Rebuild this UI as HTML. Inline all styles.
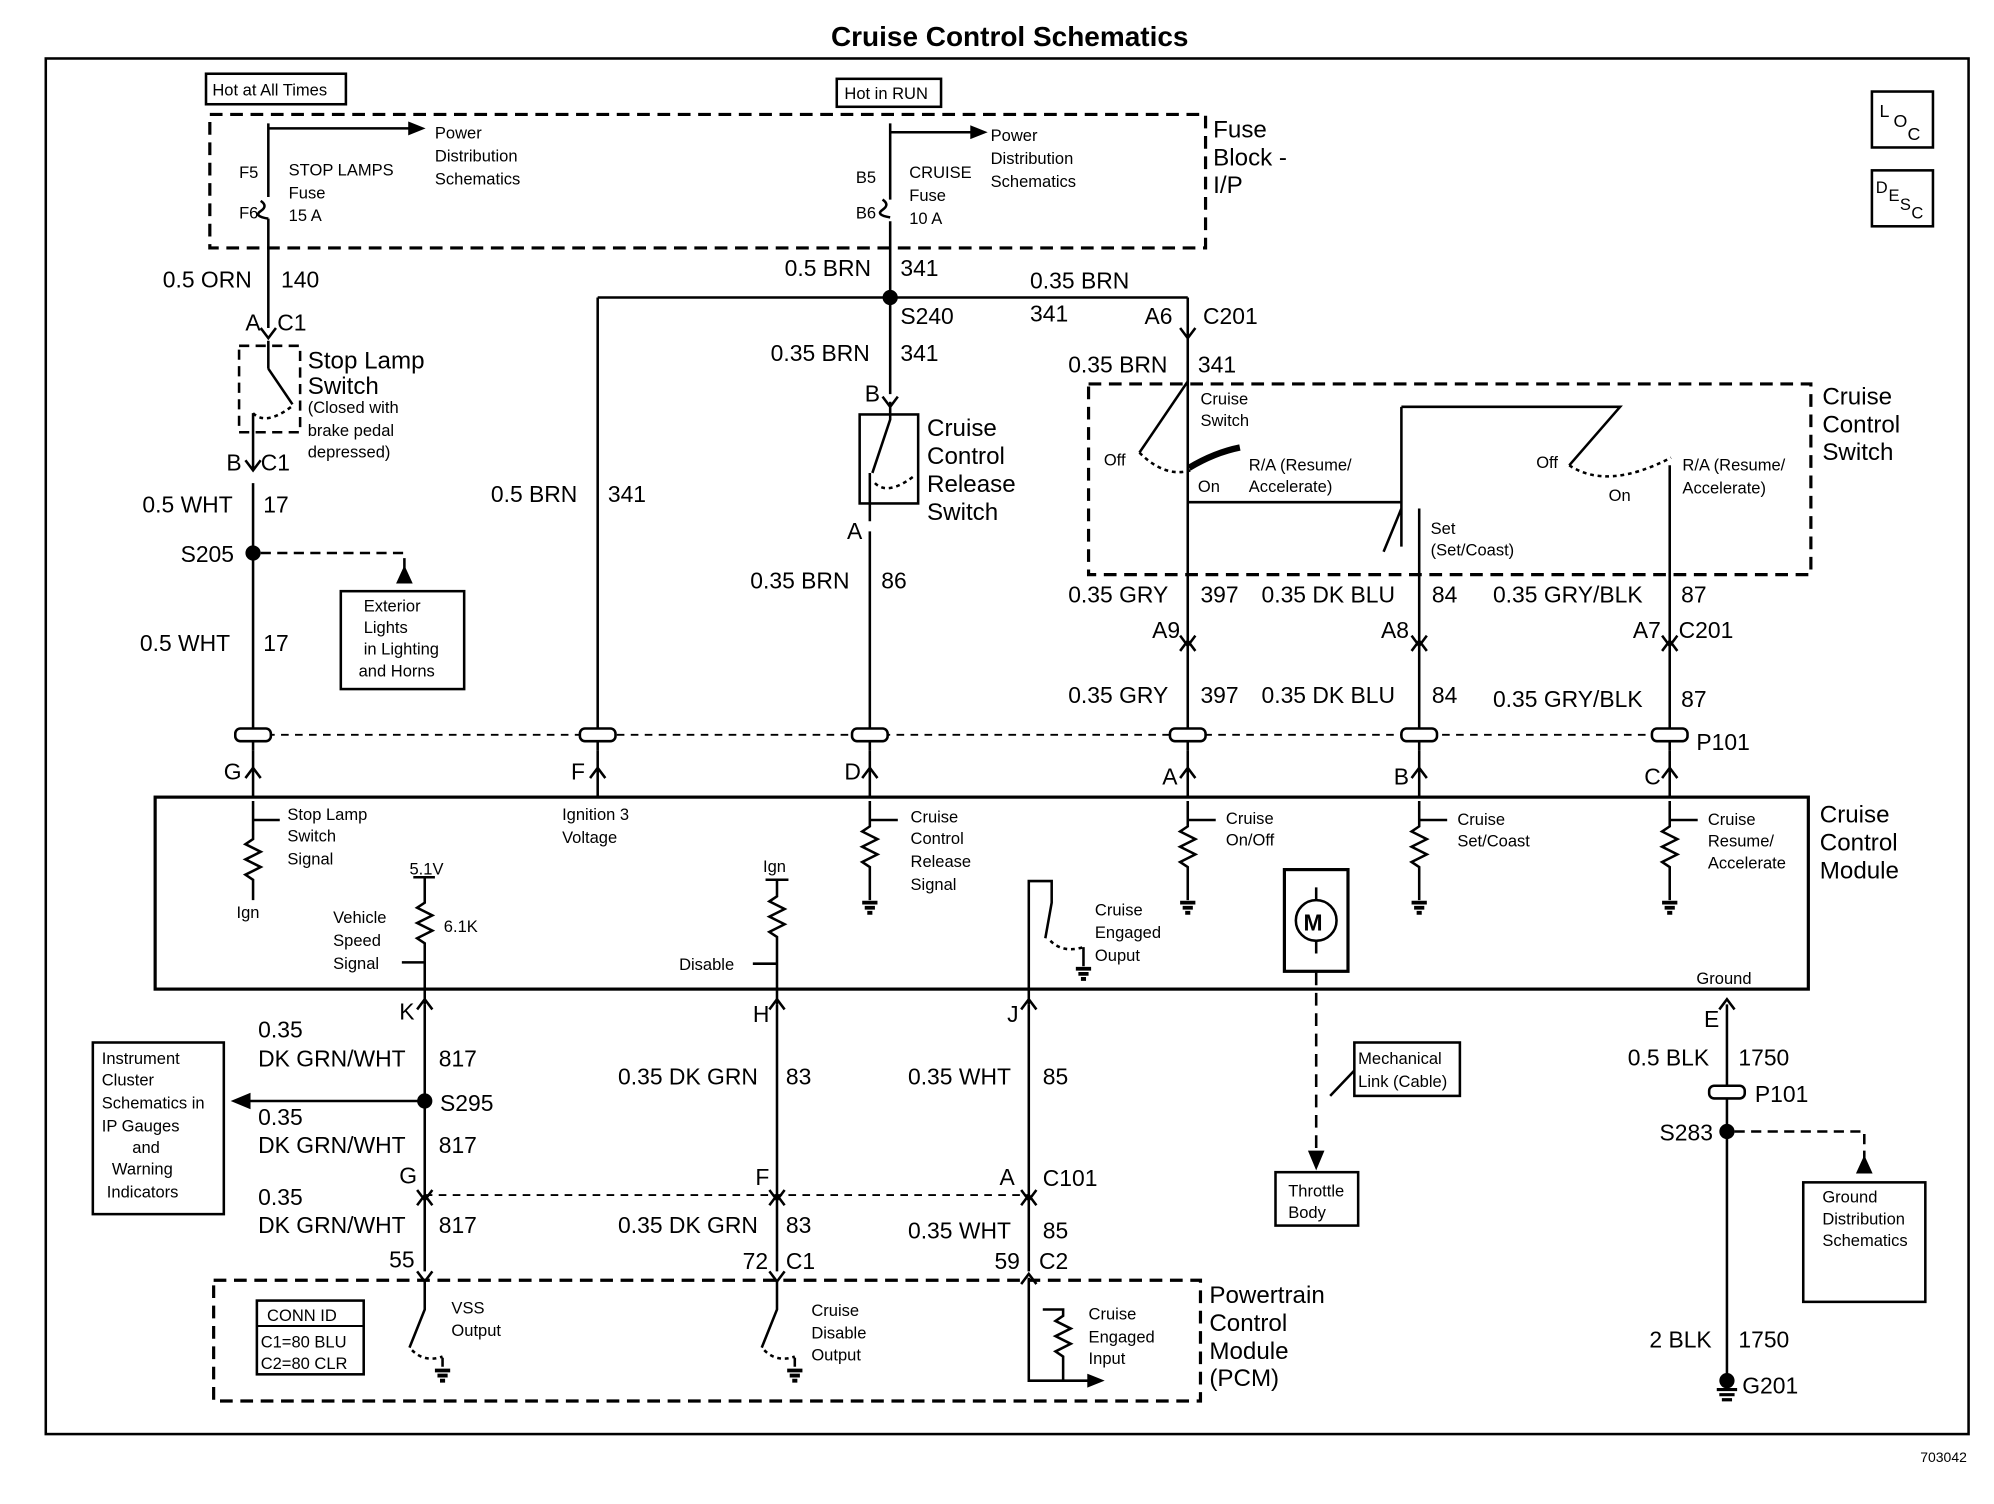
<!DOCTYPE html>
<html><head><meta charset="utf-8"><style>
html,body{margin:0;padding:0;background:#fff;}
svg{display:block}
text{font-family:"Liberation Sans",Arial,sans-serif;fill:#000}
.b{font-size:18px}
.s{font-size:13px}
.m{font-size:19px}
</style></head><body>
<svg width="1994" height="1504" viewBox="0 0 1568 1183" preserveAspectRatio="none" xmlns="http://www.w3.org/2000/svg">
<g stroke="#000" fill="none" stroke-width="2">
<rect x="36" y="46" width="1512" height="1082"/>
<rect x="162" y="58" width="110" height="24"/>
<rect x="658" y="62" width="82" height="22"/>
<rect x="165" y="90" width="783" height="105" stroke-dasharray="10,6" stroke-width="2.5"/>
<rect x="1472" y="72" width="48" height="44"/>
<rect x="1472" y="134" width="48" height="44"/>
<!-- left wire -->
<path d="M211 97 V155 M211 172 V258"/>
<path d="M205 158 q6 4 0 8 q-6 4 6 6" />
<path d="M211 101 H330"/><path d="M322 97 L332 101 L322 105 Z" fill="#000"/>
<rect x="188" y="272" width="48" height="68" stroke-dasharray="8,5"/>
<path d="M211 268 V290 M211 290 L230 318 M199 325 V370 M199 380 V590 M205 258 l6 8 l6-8 M193 362 l6 8 l6-8"/>
<path d="M199 325 q10 10 30 -5" stroke-dasharray="3,3"/>
<circle cx="199" cy="435" r="5" fill="#000"/>
<path d="M205 435 H318 V450" stroke-dasharray="8,5"/>
<path d="M313 458 L318 447 L323 458 Z" fill="#000"/>
<rect x="268" y="465" width="97" height="77"/>
<!-- middle fuse -->
<path d="M700 97 V157 M700 174 V310 M694 157 q6 4 0 8 q-6 4 6 6"/>
<path d="M700 104 H772"/><path d="M764 100 L774 104 L764 108 Z" fill="#000"/>
<circle cx="700" cy="234" r="5" fill="#000"/>
<path d="M470 234 H934 M470 234 V590 M934 234 V590"/>
<path d="M928 258 l6 8 l6-8"/>
<rect x="676" y="326" width="46" height="70"/>
<path d="M700 316 V330 L686 372 M684 372 V410 M684 418 V590 M694 312 l6 8 l6-8"/>
<path d="M688 380 q10 10 30 -5" stroke-dasharray="3,3"/>
<!-- cruise control switch -->
<rect x="856" y="302" width="568" height="150" stroke-dasharray="10,6" stroke-width="2.5"/>
<path d="M934 300 L896 356"/>
<path d="M896 356 q20 20 40 14" stroke-dasharray="3,3"/>
<path d="M935 368 q20-12 40-16" stroke-width="5"/>
<path d="M934 395 H1102 M1102 320 V395 V430 M1102 320 H1274 L1234 366 M1102 400 L1088 434"/>
<path d="M1234 366 q30 20 80-6" stroke-dasharray="3,3"/>
<path d="M1116 400 V590 M1313 366 V590"/>
<path d="M928 500 l6 8 l6-8 M928 512 l6 -8 l6 8 M1110 500 l6 8 l6-8 M1110 512 l6 -8 l6 8 M1307 500 l6 8 l6-8 M1307 512 l6 -8 l6 8"/>
<!-- P101 row -->
<path d="M199 578 H1313" stroke-dasharray="6,5" stroke-width="1.5"/>
<g stroke-width="2">
<rect x="185" y="573" width="28" height="10" rx="4" fill="#fff"/>
<rect x="456" y="573" width="28" height="10" rx="4" fill="#fff"/>
<rect x="670" y="573" width="28" height="10" rx="4" fill="#fff"/>
<rect x="920" y="573" width="28" height="10" rx="4" fill="#fff"/>
<rect x="1102" y="573" width="28" height="10" rx="4" fill="#fff"/>
<rect x="1299" y="573" width="28" height="10" rx="4" fill="#fff"/>
</g>
<path d="M193 612 l6-8 l6 8 M464 612 l6-8 l6 8 M678 612 l6-8 l6 8 M928 612 l6-8 l6 8 M1110 612 l6-8 l6 8 M1307 612 l6-8 l6 8"/>
<path d="M199 590 V627 M470 590 V627 M684 590 V627 M934 590 V627 M1116 590 V627 M1313 590 V627"/>
<!-- module -->
<rect x="122" y="627" width="1300" height="151" stroke-width="2.5"/>
<path d="M199 630 V660 l-6 4 l12 6 l-12 6 l12 6 l-12 6 l6 4 V708 M199 645 H220"/>
<path d="M684 630 V650 l-6 4 l12 6 l-12 6 l12 6 l-12 6 l6 4 V708 M684 645 H706 M934 630 V650 l-6 4 l12 6 l-12 6 l12 6 l-12 6 l6 4 V708 M934 645 H956 M1116 630 V650 l-6 4 l12 6 l-12 6 l12 6 l-12 6 l6 4 V708 M1116 645 H1138 M1313 630 V650 l-6 4 l12 6 l-12 6 l12 6 l-12 6 l6 4 V708 M1313 645 H1335"/>
<path d="M678 710 h12 M680 714 h8 M682 718 h4 M928 710 h12 M930 714 h8 M932 718 h4 M1110 710 h12 M1112 714 h8 M1114 718 h4 M1307 710 h12 M1309 714 h8 M1311 718 h4 M846 762 h12 M848 766 h8 M850 770 h4" stroke-width="3"/>
<path d="M325 690 H342 M334 690 V710 l-6 4 l12 6 l-12 6 l12 6 l-12 6 l6 4 V790 M334 757 H316"/>
<path d="M602 692 H620 M611 692 V705 l-6 4 l12 6 l-12 6 l12 6 l-12 6 l6 4 V790 M611 758 H592"/>
<path d="M809 790 V693 H827 V710 L822 738 M852 745 V760"/>
<path d="M826 740 q10 10 26 5" stroke-dasharray="3,3"/>
<rect x="1010" y="684" width="50" height="80" stroke-width="2.5"/>
<circle cx="1035" cy="724" r="16"/>
<path d="M1035 698 V708 M1035 740 V750"/>
<path d="M1035 765 V915" stroke-dasharray="10,6"/>
<path d="M1030 906 L1035 918 L1040 906 Z" fill="#000"/>
<rect x="1003" y="922" width="65" height="42"/>
<rect x="1065" y="820" width="83" height="42"/>
<path d="M1065 842 L1046 862"/>
<!-- lower wires -->
<path d="M328 794 l6-8 l6 8 M605 794 l6-8 l6 8 M803 794 l6-8 l6 8 M1352 794 l6-8 l6 8"/>
<path d="M334 790 V1000 M611 790 V1000 M809 790 V1000 M1358 790 V1085"/>
<circle cx="334" cy="866" r="5" fill="#000"/>
<path d="M334 866 H194"/><path d="M196 861 L184 866 L196 871 Z" fill="#000"/>
<rect x="73" y="820" width="103" height="135"/>
<path d="M334 940 H809" stroke-dasharray="6,5" stroke-width="1.5"/>
<path d="M328 936 l6 8 l6-8 M328 948 l6-8 l6 8 M605 936 l6 8 l6-8 M605 948 l6-8 l6 8 M803 936 l6 8 l6-8 M803 948 l6-8 l6 8"/>
<path d="M328 1000 l6 8 l6-8 M605 1000 l6 8 l6-8 M803 1010 l6-8 l6 8"/>
<rect x="168" y="1007" width="776" height="95" stroke-dasharray="10,6" stroke-width="2.5"/>
<rect x="202" y="1023" width="84" height="58"/>
<path d="M334 1008 V1030 L322 1060 M348 1068 V1075"/>
<path d="M324 1062 q10 10 24 5" stroke-dasharray="3,3"/>
<path d="M611 1008 V1030 L599 1060 M625 1068 V1075"/>
<path d="M601 1062 q10 10 24 5" stroke-dasharray="3,3"/>
<path d="M809 1005 V1086 H860 M820 1030 H836 V1035 l-6 4 l12 6 l-12 6 l12 6 l-12 6 l6 4 V1086"/>
<path d="M856 1082 L866 1086 L856 1090 Z" fill="#000"/>
<path d="M342 1078 h12 M344 1082 h8 M346 1086 h4 M619 1078 h12 M621 1082 h8 M623 1086 h4" stroke-width="3"/>
<rect x="1344" y="854" width="28" height="10" rx="4" fill="#fff"/>
<circle cx="1358" cy="890" r="5" fill="#000"/>
<path d="M1364 890 H1466 V912" stroke-dasharray="8,5"/>
<path d="M1461 922 L1466 911 L1471 922 Z" fill="#000"/>
<rect x="1418" y="930" width="96" height="94"/>
<circle cx="1358" cy="1086" r="5" fill="#000"/>
<path d="M1350 1093 h16 M1352 1097 h12 M1354 1101 h8" stroke-width="2.5"/>
</g>
<text x="794" y="36" text-anchor="middle" style="font-size:22px;font-weight:bold">Cruise Control Schematics</text>
<text x="1510" y="1150" class="s" style="font-size:11px">703042</text>
<text x="167" y="75" class="s">Hot at All Times</text>
<text x="664" y="78" class="s">Hot in RUN</text>
<text x="954" y="108" class="m">Fuse</text><text x="954" y="130" class="m">Block -</text><text x="954" y="152" class="m">I/P</text>
<text x="1478" y="92" style="font-size:14px">L</text><text x="1489" y="100" style="font-size:14px">O</text><text x="1500" y="110" style="font-size:14px">C</text>
<text x="1475" y="152" style="font-size:13px">D</text><text x="1485" y="158" style="font-size:13px">E</text><text x="1494" y="165" style="font-size:13px">S</text><text x="1503" y="172" style="font-size:13px">C</text>
<text x="342" y="109" class="s">Power</text><text x="342" y="127" class="s">Distribution</text><text x="342" y="145" class="s">Schematics</text>
<text x="188" y="140" class="s">F5</text><text x="188" y="172" class="s">F6</text>
<text x="227" y="138" class="s">STOP LAMPS</text><text x="227" y="156" class="s">Fuse</text><text x="227" y="174" class="s">15 A</text>
<text x="779" y="111" class="s">Power</text><text x="779" y="129" class="s">Distribution</text><text x="779" y="147" class="s">Schematics</text>
<text x="673" y="144" class="s">B5</text><text x="673" y="172" class="s">B6</text>
<text x="715" y="140" class="s">CRUISE</text><text x="715" y="158" class="s">Fuse</text><text x="715" y="176" class="s">10 A</text>
<text x="128" y="226" class="b">0.5 ORN</text><text x="221" y="226" class="b">140</text>
<text x="193" y="260" class="b">A</text><text x="218" y="260" class="b">C1</text>
<text x="242" y="290" class="m">Stop Lamp</text><text x="242" y="310" class="m">Switch</text>
<text x="242" y="325" class="s">(Closed with</text><text x="242" y="343" class="s">brake pedal</text><text x="242" y="360" class="s">depressed)</text>
<text x="178" y="370" class="b">B</text><text x="205" y="370" class="b">C1</text>
<text x="112" y="403" class="b">0.5 WHT</text><text x="207" y="403" class="b">17</text>
<text x="142" y="442" class="b">S205</text>
<text x="110" y="512" class="b">0.5 WHT</text><text x="207" y="512" class="b">17</text>
<text x="286" y="481" class="s">Exterior</text><text x="286" y="498" class="s">Lights</text><text x="286" y="515" class="s">in Lighting</text><text x="282" y="532" class="s">and Horns</text>
<text x="617" y="217" class="b">0.5 BRN</text><text x="708" y="217" class="b">341</text>
<text x="810" y="227" class="b">0.35 BRN</text>
<text x="708" y="255" class="b">S240</text>
<text x="810" y="253" class="b">341</text><text x="900" y="255" class="b">A6</text><text x="946" y="255" class="b">C201</text>
<text x="606" y="284" class="b">0.35 BRN</text><text x="708" y="284" class="b">341</text>
<text x="840" y="293" class="b">0.35 BRN</text><text x="942" y="293" class="b">341</text>
<text x="680" y="316" class="b">B</text>
<text x="729" y="343" class="m">Cruise</text><text x="729" y="365" class="m">Control</text><text x="729" y="387" class="m">Release</text><text x="729" y="409" class="m">Switch</text>
<text x="666" y="424" class="b">A</text>
<text x="386" y="395" class="b">0.5 BRN</text><text x="478" y="395" class="b">341</text>
<text x="590" y="463" class="b">0.35 BRN</text><text x="693" y="463" class="b">86</text>
<text x="944" y="318" class="s">Cruise</text><text x="944" y="335" class="s">Switch</text>
<text x="868" y="366" class="s">Off</text><text x="942" y="387" class="s">On</text>
<text x="982" y="370" class="s">R/A (Resume/</text><text x="982" y="387" class="s">Accelerate)</text>
<text x="1208" y="368" class="s">Off</text><text x="1265" y="394" class="s">On</text>
<text x="1323" y="370" class="s">R/A (Resume/</text><text x="1323" y="388" class="s">Accelerate)</text>
<text x="1125" y="420" class="s">Set</text><text x="1125" y="437" class="s">(Set/Coast)</text>
<text x="1433" y="318" class="m">Cruise</text><text x="1433" y="340" class="m">Control</text><text x="1433" y="362" class="m">Switch</text>
<text x="840" y="474" class="b">0.35 GRY</text><text x="944" y="474" class="b">397</text>
<text x="992" y="474" class="b">0.35 DK BLU</text><text x="1126" y="474" class="b">84</text>
<text x="1174" y="474" class="b">0.35 GRY/BLK</text><text x="1322" y="474" class="b">87</text>
<text x="906" y="502" class="b">A9</text><text x="1086" y="502" class="b">A8</text><text x="1284" y="502" class="b">A7</text><text x="1320" y="502" class="b">C201</text>
<text x="840" y="553" class="b">0.35 GRY</text><text x="944" y="553" class="b">397</text>
<text x="992" y="553" class="b">0.35 DK BLU</text><text x="1126" y="553" class="b">84</text>
<text x="1174" y="556" class="b">0.35 GRY/BLK</text><text x="1322" y="556" class="b">87</text>
<text x="1334" y="590" class="b">P101</text>
<text x="176" y="613" class="b">G</text><text x="449" y="613" class="b">F</text><text x="664" y="613" class="b">D</text><text x="914" y="617" class="b">A</text><text x="1096" y="617" class="b">B</text><text x="1293" y="617" class="b">C</text>
<text x="226" y="645" class="s">Stop Lamp</text><text x="226" y="662" class="s">Switch</text><text x="226" y="680" class="s">Signal</text>
<text x="186" y="722" class="s">Ign</text>
<text x="442" y="645" class="s">Ignition 3</text><text x="442" y="663" class="s">Voltage</text>
<text x="716" y="647" class="s">Cruise</text><text x="716" y="664" class="s">Control</text><text x="716" y="682" class="s">Release</text><text x="716" y="700" class="s">Signal</text>
<text x="964" y="648" class="s">Cruise</text><text x="964" y="665" class="s">On/Off</text>
<text x="1146" y="649" class="s">Cruise</text><text x="1146" y="666" class="s">Set/Coast</text>
<text x="1343" y="649" class="s">Cruise</text><text x="1343" y="666" class="s">Resume/</text><text x="1343" y="683" class="s">Accelerate</text>
<text x="1431" y="647" class="m">Cruise</text><text x="1431" y="669" class="m">Control</text><text x="1431" y="691" class="m">Module</text>
<text x="322" y="688" class="s">5.1V</text><text x="349" y="733" class="s">6.1K</text>
<text x="262" y="726" class="s">Vehicle</text><text x="262" y="744" class="s">Speed</text><text x="262" y="762" class="s">Signal</text>
<text x="600" y="686" class="s">Ign</text><text x="534" y="763" class="s">Disable</text>
<text x="861" y="720" class="s">Cruise</text><text x="861" y="738" class="s">Engaged</text><text x="861" y="756" class="s">Ouput</text>
<text x="1025" y="732" style="font-size:18px;font-weight:bold">M</text>
<text x="1334" y="774" class="s">Ground</text>
<text x="314" y="802" class="b">K</text><text x="592" y="804" class="b">H</text><text x="792" y="804" class="b">J</text><text x="1340" y="808" class="b">E</text>
<text x="203" y="816" class="b">0.35</text><text x="203" y="839" class="b">DK GRN/WHT</text><text x="345" y="839" class="b">817</text>
<text x="346" y="874" class="b">S295</text>
<text x="203" y="885" class="b">0.35</text><text x="203" y="907" class="b">DK GRN/WHT</text><text x="345" y="907" class="b">817</text>
<text x="314" y="931" class="b">G</text>
<text x="203" y="948" class="b">0.35</text><text x="203" y="970" class="b">DK GRN/WHT</text><text x="345" y="970" class="b">817</text>
<text x="306" y="997" class="b">55</text>
<text x="80" y="837" class="s">Instrument</text><text x="80" y="854" class="s">Cluster</text><text x="80" y="872" class="s">Schematics in</text><text x="80" y="890" class="s">IP Gauges</text><text x="104" y="907" class="s">and</text><text x="88" y="924" class="s">Warning</text><text x="84" y="942" class="s">Indicators</text>
<text x="486" y="853" class="b">0.35 DK GRN</text><text x="618" y="853" class="b">83</text>
<text x="714" y="853" class="b">0.35 WHT</text><text x="820" y="853" class="b">85</text>
<text x="594" y="932" class="b">F</text><text x="786" y="932" class="b">A</text><text x="820" y="933" class="b">C101</text>
<text x="486" y="970" class="b">0.35 DK GRN</text><text x="618" y="970" class="b">83</text>
<text x="714" y="974" class="b">0.35 WHT</text><text x="820" y="974" class="b">85</text>
<text x="584" y="998" class="b">72</text><text x="618" y="998" class="b">C1</text>
<text x="782" y="998" class="b">59</text><text x="817" y="998" class="b">C2</text>
<text x="1068" y="837" class="s">Mechanical</text><text x="1068" y="855" class="s">Link (Cable)</text>
<text x="1013" y="941" class="s">Throttle</text><text x="1013" y="958" class="s">Body</text>
<text x="210" y="1039" class="s">CONN ID</text>
<path d="M202 1043 H286" stroke="#000" stroke-width="1.5"/>
<text x="205" y="1060" class="s">C1=80 BLU</text><text x="205" y="1077" class="s">C2=80 CLR</text>
<text x="355" y="1033" class="s">VSS</text><text x="355" y="1051" class="s">Output</text>
<text x="638" y="1035" class="s">Cruise</text><text x="638" y="1053" class="s">Disable</text><text x="638" y="1070" class="s">Output</text>
<text x="856" y="1038" class="s">Cruise</text><text x="856" y="1056" class="s">Engaged</text><text x="856" y="1073" class="s">Input</text>
<text x="951" y="1025" class="m">Powertrain</text><text x="951" y="1047" class="m">Control</text><text x="951" y="1069" class="m">Module</text><text x="951" y="1090" class="m">(PCM)</text>
<text x="1280" y="838" class="b">0.5 BLK</text><text x="1367" y="838" class="b">1750</text>
<text x="1380" y="867" class="b">P101</text>
<text x="1305" y="897" class="b">S283</text>
<text x="1433" y="946" class="s">Ground</text><text x="1433" y="963" class="s">Distribution</text><text x="1433" y="980" class="s">Schematics</text>
<text x="1297" y="1060" class="b">2 BLK</text><text x="1367" y="1060" class="b">1750</text>
<text x="1370" y="1096" class="b">G201</text>
</svg>
</body></html>
